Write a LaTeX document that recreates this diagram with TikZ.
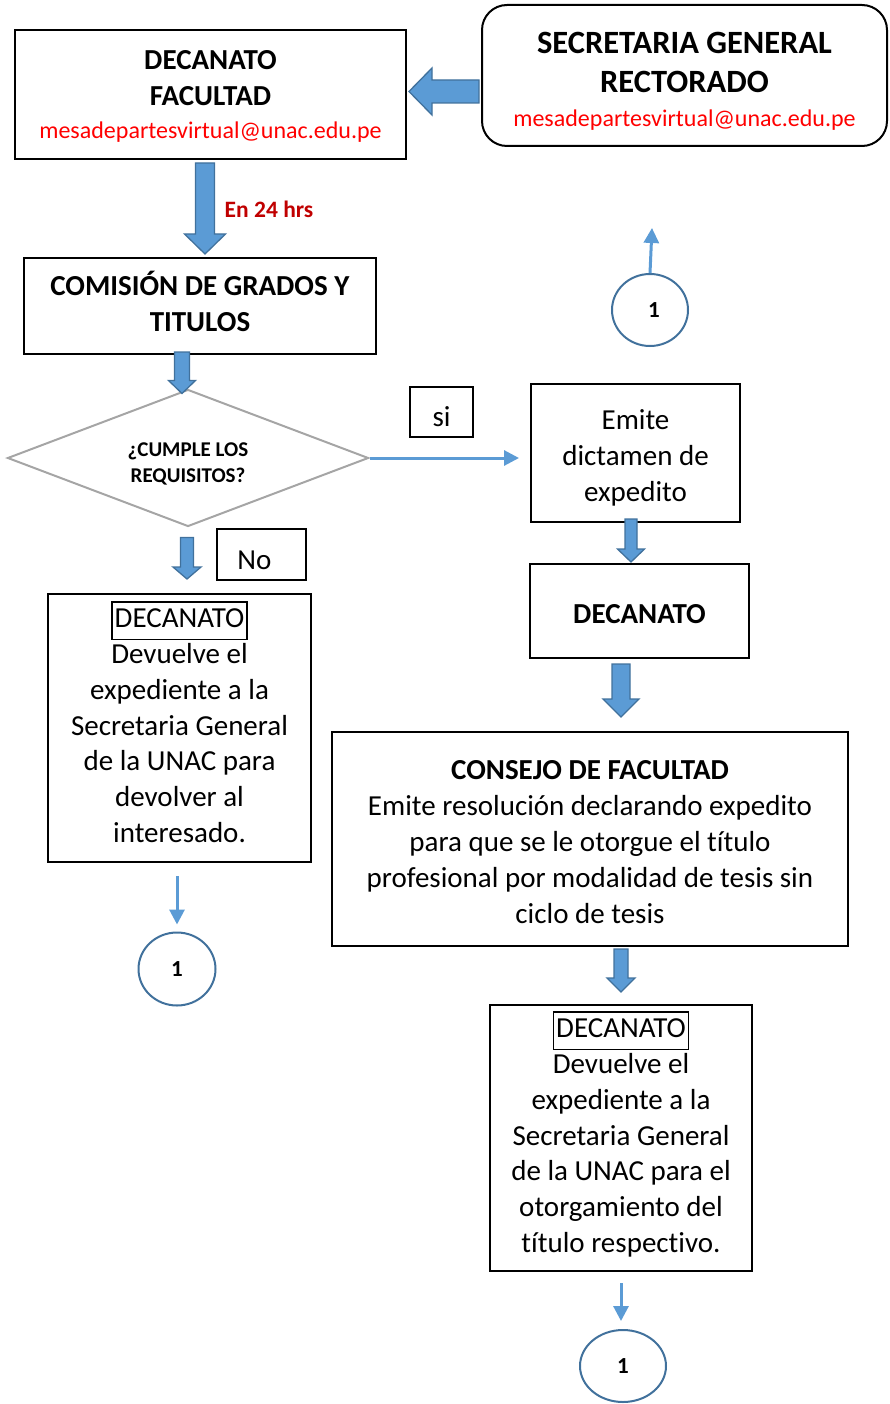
\documentclass[tikz,border=0pt]{standalone}
\usepackage{fontspec}
\setmainfont{Carlito}[Ligatures=CommonOff]
\usetikzlibrary{shapes.geometric,arrows.meta,calc}

\definecolor{flechaazul}{HTML}{5B9BD5}
\definecolor{bordeazul}{HTML}{41719C}
\definecolor{gris}{HTML}{A5A5A5}
\definecolor{rojo}{HTML}{FF0000}
\definecolor{rojooscuro}{HTML}{C00000}

\newcommand{\letranormal}{\fontsize{29}{35.8}\selectfont}
\newcommand{\letragrande}{\fontsize{32.5}{39}\selectfont}
\newcommand{\letracorreo}{\fontsize{24}{33}\selectfont}
\newcommand{\letrapeq}{\fontsize{21}{26}\selectfont}
\newcommand{\letrauno}{\fontsize{23}{26}\selectfont}
\setlength{\fboxrule}{1.3pt}
\setlength{\fboxsep}{0pt}
\newcommand{\marco}[1]{\fbox{\kern2pt\strut#1\kern2pt}}
% invisible struts to move text inside its box
\newcommand{\alto}[1]{\rule{0pt}{#1}}
\newcommand{\hondo}[1]{\rule[-#1]{0pt}{#1}}

% fat block arrows: start, end, half shaft, half head, head length
\newcommand{\flechabajo}[5]{%
  \draw[flechagorda] let \p1=(#1), \p2=(#2) in
    (\x1-#3,\y1) -- (\x1+#3,\y1) -- (\x1+#3,\y2+#5) -- (\x1+#4,\y2+#5)
    -- (\x1,\y2) -- (\x1-#4,\y2+#5) -- (\x1-#3,\y2+#5) -- cycle;}
\newcommand{\flechaizq}[5]{%
  \draw[flechagorda] let \p1=(#1), \p2=(#2) in
    (\x1,\y1+#3) -- (\x1,\y1-#3) -- (\x2+#5,\y1-#3) -- (\x2+#5,\y1-#4)
    -- (\x2,\y1) -- (\x2+#5,\y1+#4) -- (\x2+#5,\y1+#3) -- cycle;}

\tikzset{
  caja/.style={draw, line width=2pt, align=center, inner sep=0pt, font=\letranormal},
  cajita/.style={draw, line width=1.2pt, inner sep=0pt, font=\letranormal},
  rombo/.style={diamond, draw=gris, line width=2pt, align=center, inner sep=0pt,
    shape aspect=2.6, font=\letrapeq\bfseries},
  circulo/.style={ellipse, draw=bordeazul, line width=2pt, inner sep=0pt, font=\letrauno\bfseries},
  flechafina/.style={draw=flechaazul, line width=3pt, -{Triangle[length=15pt,width=15pt]}},
  flechagorda/.style={fill=flechaazul, draw=bordeazul, line width=1.3pt}
}

\begin{document}
\begin{tikzpicture}[x=1pt,y=-1pt]
\useasboundingbox (0,0) rectangle (889,1404);

% top row
\node[caja, minimum width=391pt, minimum height=129pt] (dec) at (210.5,94.5)
  {\alto{23pt}\textbf{DECANATO}\\\textbf{FACULTAD}\\[-3pt]{\letracorreo\color{rojo}mesadepartesvirtual@unac.edu.pe}};
\node[caja, rounded corners=25pt, minimum width=405pt, minimum height=141pt, font=\letragrande] (sec) at (684.5,75.5)
  {\alto{33pt}\textbf{SECRETARIA GENERAL}\\\textbf{RECTORADO}\\[-5pt]{\letracorreo\color{rojo}mesadepartesvirtual@unac.edu.pe}};

\node[caja, minimum width=352pt, minimum height=96pt] (com) at (200,306)
  {\textbf{COMISIÓN DE GRADOS Y}\\\textbf{TITULOS}\hondo{10pt}};
\node[text=rojooscuro, font=\fontsize{23.5}{28}\selectfont\bfseries] (plazo) at (269,209) {En 24 hrs};
\node[circulo, minimum width=76pt, minimum height=72pt] (c1) at (650,310) {\kern8pt1};
\coordinate (arriba) at (652,228);

% decision
\node[rombo, minimum width=361pt, minimum height=137pt] (req) at (188,458)
  {\alto{26pt}¿CUMPLE LOS\\REQUISITOS?};
\node[cajita, minimum width=63pt, minimum height=50pt] (si) at (441.5,412) {\alto{30pt}si};
\node[cajita, minimum width=89pt, minimum height=51pt] (no) at (261.5,554.5) {\alto{30pt}No\kern14pt};

% right branch
\node[caja, minimum width=209pt, minimum height=138pt] (emi) at (635.5,453)
  {\alto{30pt}Emite\\dictamen de\\expedito};
\node[caja, minimum width=219pt, minimum height=94pt] (dec2) at (639.5,611)
  {\alto{25pt}\textbf{DECANATO}};
\node[caja, minimum width=516pt, minimum height=214pt] (con) at (590,839)
  {\alto{25pt}\textbf{CONSEJO DE FACULTAD}\\Emite resolución declarando expedito\\para que se le otorgue el título\\profesional por modalidad de tesis sin\\ciclo de tesis};
\node[caja, minimum width=262pt, minimum height=266pt] (dec3) at (621,1138)
  {\marco{DECANATO}\\Devuelve el\\expediente a la\\Secretaria General\\de la UNAC para el\\otorgamiento del\\título respectivo.\hondo{12pt}};
\node[circulo, minimum width=86pt, minimum height=72pt] (c3) at (623,1366) {1};

% left branch
\node[caja, minimum width=263pt, minimum height=268pt] (dev) at (179.5,728)
  {\marco{DECANATO}\\Devuelve el\\expediente a la\\Secretaria General\\de la UNAC para\\devolver al\\interesado.\hondo{12pt}};
\node[circulo, minimum width=77pt, minimum height=73pt] (c2) at (177,969) {1};

% block arrows
\flechaizq{[xshift=-2pt,yshift=-16pt]sec.west}{[xshift=2pt]dec.east}{11.5pt}{23.5pt}{23pt}
\flechabajo{[xshift=-5.5pt,yshift=-3pt]dec.south}{[yshift=3pt]com.north}{9.5pt}{20.5pt}{20pt}
\flechabajo{[xshift=-18pt,yshift=3pt]com.south}{[yshift=-5pt]req.north}{7.5pt}{13.5pt}{13pt}
\flechabajo{[xshift=-1pt,yshift=-10pt]req.south}{[yshift=14pt]dev.north}{6.5pt}{14pt}{12pt}
\flechabajo{[xshift=-4.5pt,yshift=4pt]emi.south}{[yshift=1pt]dec2.north}{6pt}{13.5pt}{13pt}
\flechabajo{[xshift=-18.5pt,yshift=-5pt]dec2.south}{[yshift=14pt]con.north}{9pt}{18pt}{18pt}
\flechabajo{[xshift=31pt,yshift=-2pt]con.south}{[yshift=12pt]dec3.north}{7pt}{14pt}{14pt}

% thin arrows
\draw[flechafina] (req.east) -- ([xshift=-11pt]emi.west |- req.east);
\draw[flechafina, shorten <=13pt, shorten >=7pt] (c2.north |- dev.south) -- (c2.north);
\draw[flechafina, shorten <=11pt, shorten >=8pt] (dec3.south) -- (dec3.south |- c3.north);
\draw[flechafina] (c1.north) -- (arriba);
\end{tikzpicture}
\end{document}
